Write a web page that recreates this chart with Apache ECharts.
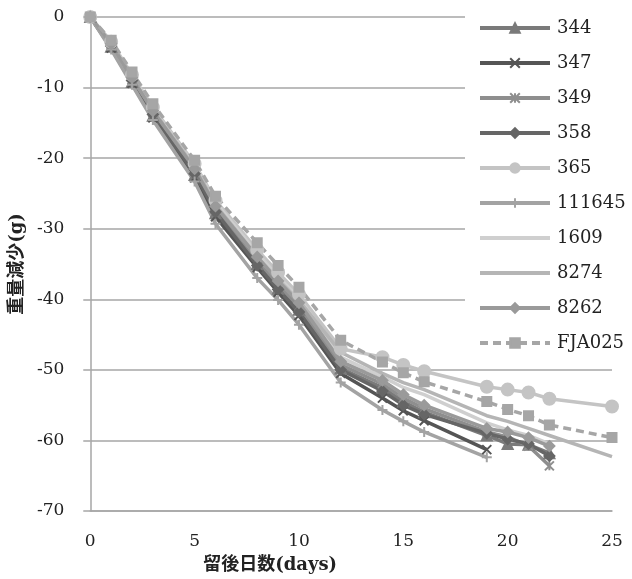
<!DOCTYPE html>
<html>
<head>
<meta charset="utf-8">
<script src="https://cdn.jsdelivr.net/npm/echarts@6/dist/echarts.min.js"></script>
<style>
  html, body { margin: 0; padding: 0; background: #fff; }
  #chart { width: 632px; height: 579px; }
</style>
</head>
<body>
<div id="chart"></div>
<script>
  // days measured for each group of samples
  var daysTo22 = [0, 1, 2, 3, 5, 6, 8, 9, 10, 12, 14, 15, 16, 19, 20, 21, 22]
  var daysTo25 = [0, 1, 2, 3, 5, 6, 8, 9, 10, 12, 14, 15, 16, 19, 20, 21, 22, 25]
  var daysTo19 = [0, 1, 2, 3, 5, 6, 8, 9, 10, 12, 14, 15, 16, 19]

  // weight loss (g)
  var s344 = [0, -4.2, -9.2, -14.0, -22.4, -27.8, -35.0, -38.5, -41.5, -49.8, -52.5, -54.5, -56.0, -59.3, -60.5, -60.6, -61.8]
  var s347 = [0, -4.4, -9.4, -14.3, -22.8, -28.3, -35.5, -39.0, -42.3, -50.5, -54.0, -55.8, -57.2, -61.3]
  var s349 = [0, -4.0, -8.9, -13.6, -22.0, -27.3, -34.5, -38.0, -41.0, -49.3, -52.0, -54.0, -55.5, -58.8, -59.5, -60.8, -63.6]
  var s358 = [0, -4.1, -9.0, -13.8, -22.2, -27.6, -35.2, -38.6, -41.8, -50.0, -53.0, -55.0, -56.3, -59.0, -59.8, -60.5, -62.2]
  var s365 = [0, -3.5, -8.2, -12.8, -20.8, -26.0, -33.0, -36.2, -39.3, -47.0, -48.2, -49.3, -50.2, -52.4, -52.8, -53.2, -54.1, -55.2]
  var s111645 = [0, -4.6, -9.6, -14.6, -23.3, -29.3, -37.0, -40.1, -43.6, -51.8, -55.7, -57.3, -58.8, -62.4]
  var s1609 = [0, -3.6, -8.4, -13.0, -21.0, -26.3, -33.5, -36.8, -39.8, -48.2, -51.0, -52.5, -53.5, -57.5, -58.5, -59.3, -60.5]
  var s8274 = [0, -3.7, -8.6, -13.2, -21.3, -26.6, -34.0, -37.2, -40.2, -47.5, -50.5, -51.8, -52.8, -56.5, -57.3, -58.3, -59.3, -62.3]
  var s8262 = [0, -3.8, -8.6, -13.3, -21.5, -26.8, -34.0, -37.4, -40.5, -48.8, -51.5, -53.5, -55.0, -58.3, -58.8, -59.6, -60.8]
  var sFJA025 = [0, -3.3, -7.8, -12.3, -20.3, -25.4, -32.0, -35.2, -38.3, -45.8, -48.9, -50.4, -51.7, -54.5, -55.6, -56.5, -57.8, -59.6]

  var xTicks = [0, 5, 10, 15, 20, 25]
  var yTicks = [0, -10, -20, -30, -40, -50, -60, -70]

  var serif = "'DejaVu Serif', 'Noto Sans CJK JP', serif"
  // legend entry with line only, no marker
  var noMarker = { opacity: 0, color: 'transparent', borderWidth: 0 }

  function pairs (days, vals) {
    return days.map(function (d, i) { return [d, vals[i]] })
  }

  function mk (name, days, vals, color, symbol, size, dashed) {
    return {
      name: name,
      type: 'line',
      data: pairs(days, vals),
      symbol: symbol,
      symbolSize: size,
      showSymbol: symbol !== 'none',
      color: color,
      lineStyle: { color: color, width: 3.5, type: dashed ? [8, 5] : 'solid' },
      itemStyle: { color: color, borderColor: color, borderWidth: 2 },
      emphasis: { disabled: true },
      animation: false
    }
  }

  var chart = echarts.init(document.getElementById('chart'))
  chart.setOption({
    backgroundColor: '#fff',
    grid: { left: 90, right: 20, top: 17, bottom: 68 },
    legend: {
      orient: 'vertical',
      left: 465,
      top: 0,
      padding: [19, 0, 8, 13],
      backgroundColor: '#fff',
      itemWidth: 70,
      itemHeight: 12,
      itemGap: 17,
      lineStyle: { width: 4 },
      textStyle: { fontFamily: serif, fontSize: 18, color: '#222', padding: [0, 0, 0, 2] },
      data: ['344', '347', '349', '358', '365', '111645',
        { name: '1609', itemStyle: noMarker }, { name: '8274', itemStyle: noMarker }, '8262', 'FJA025']
    },
    xAxis: {
      type: 'value',
      min: xTicks[0],
      max: xTicks[xTicks.length - 1],
      interval: 5,
      name: '留後日数(days)',
      nameLocation: 'middle',
      nameGap: 45,
      nameTextStyle: { fontFamily: serif, fontSize: 18, fontWeight: 'bold', color: '#222', padding: [0, 162, 0, 0] },
      axisLine: { onZero: false, lineStyle: { color: '#a6a6a6', width: 1.5 } },
      axisTick: { show: false },
      splitLine: { show: false },
      axisLabel: { fontFamily: serif, fontSize: 17, color: '#222', margin: 22 }
    },
    yAxis: {
      type: 'value',
      min: yTicks[yTicks.length - 1],
      max: yTicks[0],
      interval: 10,
      name: '重量減少(g)',
      nameLocation: 'middle',
      nameGap: 56,
      nameRotate: 90,
      nameTextStyle: { fontFamily: serif, fontSize: 18, fontWeight: 'bold', color: '#222' },
      axisLine: { show: true, lineStyle: { color: '#a6a6a6', width: 1.5 } },
      axisTick: { show: true, length: 7, lineStyle: { color: '#a6a6a6', width: 1.5 } },
      splitLine: { lineStyle: { color: '#a6a6a6', width: 1.5 } },
      axisLabel: { fontFamily: serif, fontSize: 17, color: '#222', margin: 26 }
    },
    series: [
      mk('344', daysTo22, s344, '#7a7a7a', 'triangle', 10),
      mk('347', daysTo19, s347, '#555555', 'path://M0,0L10,10M10,0L0,10', 9),
      mk('349', daysTo22, s349, '#8e8e8e', 'path://M0,0L10,10M10,0L0,10M5,0L5,10', 9),
      mk('358', daysTo22, s358, '#666666', 'diamond', 10),
      mk('365', daysTo25, s365, '#c4c4c4', 'circle', 12),
      mk('111645', daysTo19, s111645, '#a3a3a3', 'path://M5,0L5,10M1,5L9,5', 10),
      mk('1609', daysTo22, s1609, '#cfcfcf', 'none', 0),
      mk('8274', daysTo25, s8274, '#b5b5b5', 'none', 0),
      mk('8262', daysTo22, s8262, '#9a9a9a', 'diamond', 10),
      mk('FJA025', daysTo25, sFJA025, '#a6a6a6', 'rect', 9, true)
    ]
  })
</script>
</body>
</html>
